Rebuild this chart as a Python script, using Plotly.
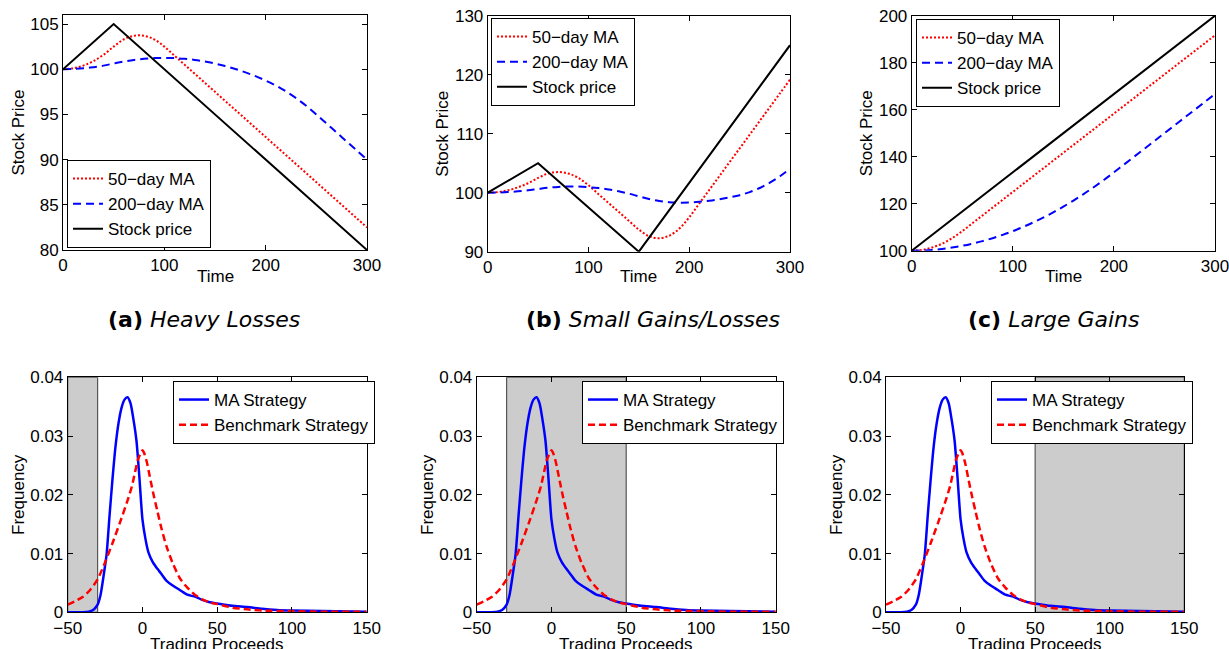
import plotly.graph_objects as go

# ---------------- data ----------------
t = [0, 10, 20, 30, 40, 50, 60, 70, 80, 90, 100, 110, 120, 130, 140, 150,
     160, 170, 180, 190, 200, 210, 220, 230, 240, 250, 260, 270, 280, 290, 300]

# (a) Heavy Losses
price_a_t = [0, 50, 300]
price_a = [100, 105, 80]
ma50_a = [100, 100.1, 100.4, 100.9, 101.6, 102.5, 103.3, 103.7, 103.7, 103.3, 102.5,
          101.5, 100.5, 99.5, 98.5, 97.5, 96.5, 95.5, 94.5, 93.5, 92.5, 91.5, 90.5,
          89.5, 88.5, 87.5, 86.5, 85.5, 84.5, 83.5, 82.5]
ma200_a = [100, 100.03, 100.1, 100.23, 100.4, 100.63, 100.85, 101.03, 101.15, 101.23,
           101.25, 101.23, 101.15, 101.03, 100.85, 100.63, 100.35, 100.03, 99.65, 99.23,
           98.75, 98.2, 97.55, 96.8, 95.95, 95.0, 94.0, 93.0, 92.0, 91.0, 90.0]

# (b) Small Gains/Losses
price_b_t = [0, 50, 150, 300]
price_b = [100, 105, 90, 125]
ma50_b = [100, 100.1, 100.4, 100.9, 101.6, 102.5, 103.25, 103.5, 103.25, 102.5, 101.25,
          99.75, 98.25, 96.75, 95.25, 93.75, 92.63, 92.28, 92.7, 93.88, 95.83, 98.17,
          100.5, 102.83, 105.17, 107.5, 109.83, 112.17, 114.5, 116.83, 119.17]
ma200_b = [100, 100.03, 100.1, 100.23, 100.4, 100.63, 100.84, 100.98, 101.04, 101.03,
           100.94, 100.78, 100.54, 100.23, 99.84, 99.38, 98.93, 98.61, 98.4, 98.31,
           98.33, 98.45, 98.63, 98.88, 99.2, 99.58, 100.1, 100.8, 101.7, 102.78, 104.06]

# (c) Large Gains
price_c_t = [0, 300]
price_c = [100, 200]
ma50_c = [100, 100.33, 101.33, 103.0, 105.33, 108.33, 111.67, 115.0, 118.33, 121.67,
          125.0, 128.33, 131.67, 135.0, 138.33, 141.67, 145.0, 148.33, 151.67, 155.0,
          158.33, 161.67, 165.0, 168.33, 171.67, 175.0, 178.33, 181.67, 185.0, 188.33,
          191.67]
ma200_c = [100, 100.08, 100.33, 100.75, 101.33, 102.08, 103.0, 104.08, 105.33, 106.75,
           108.33, 110.08, 112.0, 114.08, 116.33, 118.75, 121.33, 124.08, 127.0, 130.08,
           133.33, 136.67, 140.0, 143.33, 146.67, 150.0, 153.33, 156.67, 160.0, 163.33,
           166.67]

# distributions (same in all three bottom panels)
ma_x = [-50, -40, -36, -33, -30, -28, -26, -24, -22, -20, -18, -16, -14, -12, -10, -8,
        -6, -4, -2, 0, 2, 4, 7, 10, 13, 16, 20, 25, 30, 33, 36, 40, 45, 50, 60, 70, 80,
        90, 100, 120, 150]
ma_y = [0, 0, 0.0001, 0.0004, 0.0013, 0.003, 0.0062, 0.0098, 0.0165, 0.0228, 0.0283,
        0.0322, 0.0348, 0.0362, 0.0366, 0.0356, 0.0328, 0.0292, 0.0228, 0.0158, 0.0125,
        0.0102, 0.0085, 0.0074, 0.0064, 0.0054, 0.0046, 0.0038, 0.0030, 0.0028, 0.0026,
        0.0021, 0.0017, 0.0015, 0.0011, 0.0009, 0.0006, 0.0004, 0.0003, 0.0002, 0.0001]
bm_x = [-50, -45, -40, -35, -30, -25, -20, -15, -10, -7, -5, -3, -1, 0, 1, 3, 5, 7, 10,
        13, 16, 20, 25, 30, 35, 40, 45, 50, 60, 70, 80, 100, 120, 150]
bm_y = [0.0013, 0.0019, 0.0026, 0.0038, 0.0056, 0.0085, 0.0118, 0.0153, 0.019, 0.0215,
        0.0238, 0.026, 0.0272, 0.0276, 0.0272, 0.0255, 0.023, 0.0205, 0.0172, 0.014,
        0.0113, 0.0085, 0.0058, 0.0042, 0.003, 0.0022, 0.0017, 0.0014, 0.0008, 0.0005,
        0.0003, 0.0002, 0.0001, 0.0001]

shade_ranges = [(-50, -30), (-30, 50), (50, 150)]
captions = ["<b>(a)</b> <i>Heavy Losses</i>", "<b>(b)</b> <i>Small Gains/Losses</i>",
            "<b>(c)</b> <i>Large Gains</i>"]
top_yranges = [(80, 106), (90, 130), (100, 200)]
top_yticks = [[80, 85, 90, 95, 100, 105], [90, 100, 110, 120, 130],
              [100, 120, 140, 160, 180, 200]]

# ---------------- layout geometry (screen pixels of the reference) ----------------
W, H = 1229, 649
top_x = [(63, 367), (487.7, 790), (911.7, 1215)]
top_y = [(15, 250), (15.7, 251.7), (15.7, 250.7)]
bot_x = [(67.7, 366.7), (476.7, 775.7), (886, 1184.3)]
bot_y = (377.3, 612.3)
# (x_left, y_px, anchor)
legend_pos = [(67, 248, "bottom"), (491, 18, "top"), (916, 19, "top"),
              (173, 381, "top"), (582, 381, "top"), (991, 381, "top")]
caption_x = [204, 653, 1053]
caption_y = 319
time_title_y = 276
proceeds_title_y = 644

FONT = "Liberation Sans, Arial, Helvetica, sans-serif"
FS = 17


def px_x(p):
    return p / W


def px_y(p):
    return 1 - p / H


def xd(a, b):
    return [px_x(a), px_x(b)]


def yd(top, bot):
    return [px_y(bot), px_y(top)]


fig = go.Figure()

top_data = [
    (price_a_t, price_a, ma50_a, ma200_a),
    (price_b_t, price_b, ma50_b, ma200_b),
    (price_c_t, price_c, ma50_c, ma200_c),
]

for i, (pt, pv, m50, m200) in enumerate(top_data):
    n = i + 1
    xa = "x" if n == 1 else f"x{n}"
    ya = "y" if n == 1 else f"y{n}"
    lg = "legend" if n == 1 else f"legend{n}"
    fig.add_trace(go.Scatter(x=t, y=m50, mode="lines", name="50\u2212day MA",
                             line=dict(color="#ff0000", width=2, dash="2px,2px", shape="spline"),
                             xaxis=xa, yaxis=ya, legend=lg))
    fig.add_trace(go.Scatter(x=t, y=m200, mode="lines", name="200\u2212day MA",
                             line=dict(color="#0000ff", width=2, dash="8px,5px", shape="spline"),
                             xaxis=xa, yaxis=ya, legend=lg))
    fig.add_trace(go.Scatter(x=pt, y=pv, mode="lines", name="Stock price",
                             line=dict(color="#000000", width=2),
                             xaxis=xa, yaxis=ya, legend=lg))

for i in range(3):
    n = i + 4
    xa = f"x{n}"
    ya = f"y{n}"
    lg = f"legend{n}"
    fig.add_trace(go.Scatter(x=ma_x, y=ma_y, mode="lines", name="MA Strategy",
                             line=dict(color="#0000ff", width=2.5, shape="spline", smoothing=0.6),
                             xaxis=xa, yaxis=ya, legend=lg))
    fig.add_trace(go.Scatter(x=bm_x, y=bm_y, mode="lines", name="Benchmark Strategy",
                             line=dict(color="#ff0000", width=2.5, dash="7px,4px", shape="spline",
                                       smoothing=0.6),
                             xaxis=xa, yaxis=ya, legend=lg))
    s0, s1 = shade_ranges[i]
    fig.add_shape(type="rect", xref=xa, yref=ya, x0=s0, x1=s1, y0=0, y1=0.04,
                  fillcolor="#cccccc", line=dict(color="#555555", width=1.2), layer="below")

axis_common = dict(showline=True, linecolor="black", linewidth=1, mirror="ticks",
                   ticks="inside", ticklen=5, tickcolor="black", showgrid=False,
                   zeroline=False, automargin=False, ticklabeloverflow="allow",
                   tickfont=dict(family=FONT, size=FS, color="black"))
title_font = dict(family=FONT, size=FS, color="black")

layout = {}
for i in range(3):
    n = i + 1
    kx = "xaxis" if n == 1 else f"xaxis{n}"
    ky = "yaxis" if n == 1 else f"yaxis{n}"
    layout[kx] = dict(domain=xd(*top_x[i]), anchor="y" if n == 1 else f"y{n}",
                      range=[0, 300], tickvals=[0, 100, 200, 300],
                      **axis_common)
    layout[ky] = dict(domain=yd(*top_y[i]), anchor="x" if n == 1 else f"x{n}",
                      range=list(top_yranges[i]), tickvals=top_yticks[i],
                      title=dict(text="Stock Price", standoff=1, font=title_font),
                      **axis_common)
for i in range(3):
    n = i + 4
    layout[f"xaxis{n}"] = dict(domain=xd(*bot_x[i]), anchor=f"y{n}",
                               range=[-50, 150], tickvals=[-50, 0, 50, 100, 150],
                               **axis_common)
    layout[f"yaxis{n}"] = dict(domain=yd(*bot_y), anchor=f"x{n}",
                               range=[0, 0.04], tickvals=[0, 0.01, 0.02, 0.03, 0.04],
                               ticktext=["0", "0.01", "0.02", "0.03", "0.04"],
                               title=dict(text="Frequency", standoff=1, font=title_font),
                               **axis_common)

for i, (lx, ly, anc) in enumerate(legend_pos):
    key = "legend" if i == 0 else f"legend{i + 1}"
    layout[key] = dict(x=px_x(lx), y=px_y(ly), xanchor="left", yanchor=anc,
                       bgcolor="white", bordercolor="black", borderwidth=1,
                       font=dict(family=FONT, size=FS, color="black"),
                       tracegroupgap=0, itemwidth=30)

fig.update_layout(width=W, height=H, margin=dict(l=0, r=0, t=0, b=0, autoexpand=False),
                  paper_bgcolor="white", plot_bgcolor="white", showlegend=True,
                  **layout)

# x-axis titles
for i in range(3):
    fig.add_annotation(text="Time", xref="paper", yref="paper",
                       x=px_x((top_x[i][0] + top_x[i][1]) / 2), y=px_y(time_title_y),
                       xanchor="center", yanchor="middle", showarrow=False,
                       font=title_font)
    fig.add_annotation(text="Trading Proceeds", xref="paper", yref="paper",
                       x=px_x((bot_x[i][0] + bot_x[i][1]) / 2), y=px_y(proceeds_title_y),
                       xanchor="center", yanchor="middle", showarrow=False,
                       font=title_font)

for i in range(3):
    fig.add_annotation(text=captions[i], xref="paper", yref="paper",
                       x=px_x(caption_x[i]), y=px_y(caption_y), xanchor="center",
                       yanchor="middle", showarrow=False,
                       font=dict(family="DejaVu Sans, sans-serif", size=22, color="black"))

fig.write_html("out.html",
               config={"displayModeBar": False},
               post_script="document.body.style.margin='0px';"
                           "document.body.style.overflow='hidden';")
